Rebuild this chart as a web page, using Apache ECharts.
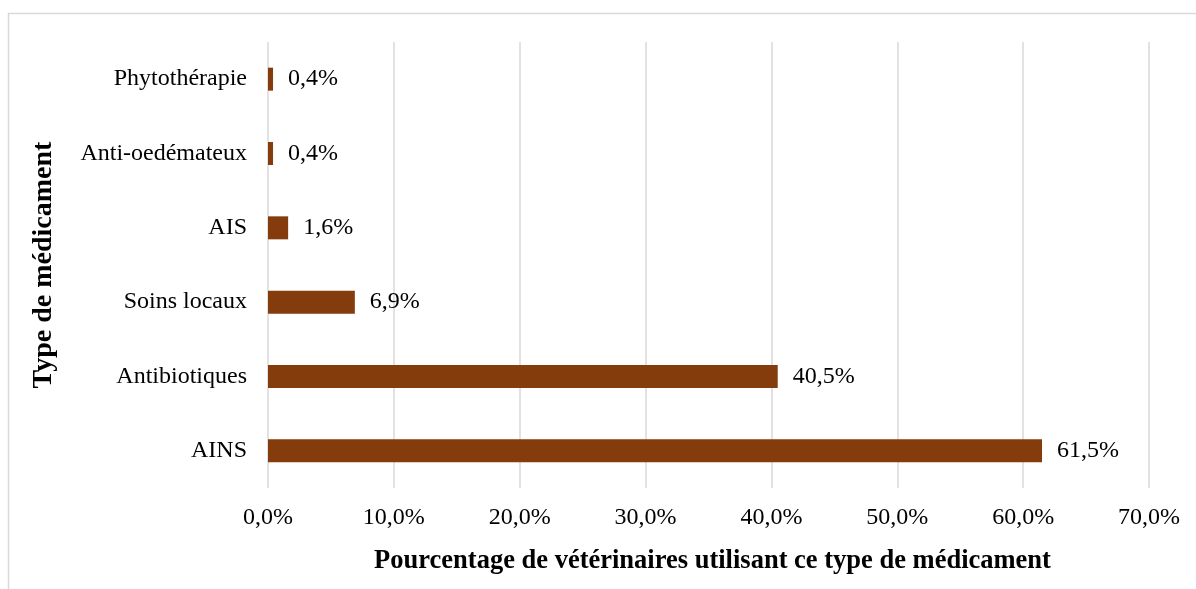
<!DOCTYPE html>
<html>
<head>
<meta charset="utf-8">
<script src="https://cdn.jsdelivr.net/npm/echarts@6/dist/echarts.min.js"></script>
<style>
  html, body { margin: 0; padding: 0; background: #fff; }
  #chart { width: 1196px; height: 589px; }
</style>
</head>
<body>
<div id="chart"></div>
<script>
// Medication types, listed bottom to top
const categories = ['AINS', 'Antibiotiques', 'Soins locaux', 'AIS', 'Anti-oedémateux', 'Phytothérapie'];
// Share of veterinarians using each type (%)
const values = [61.5, 40.5, 6.9, 1.6, 0.4, 0.4];
const xTitle = 'Pourcentage de vétérinaires utilisant ce type de médicament';
const yTitle = 'Type de médicament';

const fmt = v => v.toFixed(1).replace('.', ',') + '%';
const font = '"Liberation Serif", "Times New Roman", serif';

const chart = echarts.init(document.getElementById('chart'), null, { renderer: 'canvas' });
chart.setOption({
  backgroundColor: '#ffffff',
  animation: false,
  graphic: [{
    type: 'rect',
    shape: { x: 8.5, y: 13.5, width: 1400, height: 800 },
    style: { fill: 'none', stroke: '#d9d9d9', lineWidth: 1.5 },
    silent: true
  }],
  grid: { left: 268, right: 47, top: 42, bottom: 101 },
  xAxis: {
    type: 'value',
    min: 0,
    max: 70,
    interval: 10,
    name: xTitle,
    nameLocation: 'middle',
    nameGap: 60,
    nameTextStyle: { fontFamily: font, fontSize: 26.5, fontWeight: 'bold', color: '#000', padding: [0, 0, 0, 8] },
    axisLine: { show: false },
    axisTick: { show: false },
    axisLabel: {
      margin: 18,
      fontFamily: font,
      fontSize: 24,
      color: '#000',
      formatter: v => fmt(v)
    },
    splitLine: { show: true, lineStyle: { color: '#d9d9d9', width: 1.5 } }
  },
  yAxis: {
    type: 'category',
    data: categories,
    name: yTitle,
    nameLocation: 'middle',
    nameGap: 210,
    nameRotate: 90,
    nameTextStyle: { fontFamily: font, fontSize: 28, fontWeight: 'bold', color: '#000' },
    axisLine: { show: false },
    axisTick: { show: false },
    axisLabel: { margin: 21, fontFamily: font, fontSize: 24, color: '#000' },
    splitLine: { show: false }
  },
  series: [{
    type: 'bar',
    data: values,
    barWidth: 23,
    itemStyle: { color: '#843C0C' },
    label: {
      show: true,
      position: 'right',
      distance: 15,
      fontFamily: font,
      fontSize: 24,
      color: '#000',
      formatter: p => fmt(p.value)
    }
  }]
});
</script>
</body>
</html>
